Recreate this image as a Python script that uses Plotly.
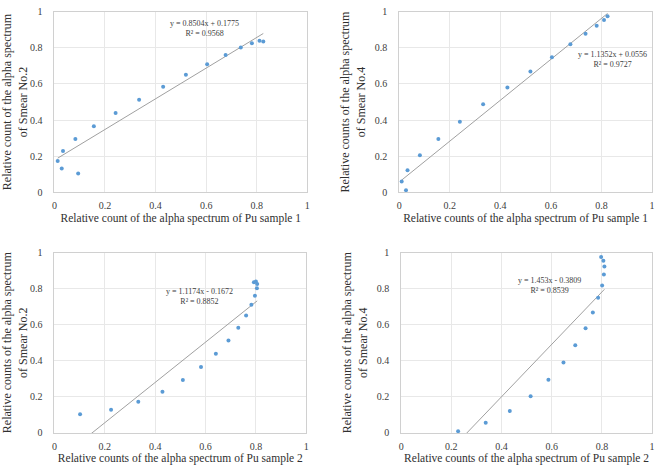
import plotly.graph_objects as go

# ---- data ----
pu1_x = [0.013, 0.029, 0.034, 0.083, 0.094, 0.156, 0.242, 0.335, 0.430, 0.520,
         0.604, 0.677, 0.737, 0.781, 0.811, 0.826]
smear2_y_a = [0.173, 0.131, 0.228, 0.295, 0.103, 0.365, 0.439, 0.513, 0.585, 0.651,
              0.710, 0.761, 0.802, 0.826, 0.840, 0.835]

pu1_x_b = [0.010, 0.027, 0.033, 0.082, 0.155, 0.240, 0.332, 0.428, 0.519, 0.604,
           0.677, 0.737, 0.781, 0.810, 0.824]
smear4_y_b = [0.059, 0.011, 0.122, 0.205, 0.295, 0.390, 0.487, 0.581, 0.669, 0.748,
              0.820, 0.879, 0.923, 0.955, 0.975]

pu2_x_c = [0.102, 0.225, 0.333, 0.429, 0.510, 0.582, 0.641, 0.691, 0.730, 0.761,
           0.782, 0.796, 0.792, 0.800, 0.805, 0.804]
smear2_y_c = [0.103, 0.129, 0.173, 0.228, 0.293, 0.365, 0.439, 0.513, 0.583, 0.651,
              0.710, 0.761, 0.835, 0.840, 0.826, 0.802]

pu2_x_d = [0.227, 0.337, 0.433, 0.516, 0.587, 0.647, 0.694, 0.735, 0.764, 0.785,
           0.801, 0.808, 0.810, 0.806, 0.797]
smear4_y_d = [0.009, 0.056, 0.121, 0.203, 0.295, 0.390, 0.486, 0.581, 0.667, 0.750,
              0.818, 0.878, 0.923, 0.955, 0.975]

# trendline coefficients (slope, intercept) and labels
fits = [(0.8504, 0.1775), (1.1352, 0.0556), (1.1174, -0.1672), (1.453, -0.3809)]
eq_labels = ["y = 0.8504x + 0.1775<br>R² = 0.9568",
             "y = 1.1352x + 0.0556<br>R² = 0.9727",
             "y = 1.1174x - 0.1672<br>R² = 0.8852",
             "y = 1.453x - 0.3809<br>R² = 0.8539"]
eq_pos = [(0.594, 0.91), (0.844, 0.733), (0.576, 0.757), (0.59, 0.817)]

x_titles = ["Relative count of the alpha spectrum of Pu sample 1",
            "Relative counts of the alpha spectrum of Pu sample 1",
            "Relative counts of the alpha spectrum of Pu sample 2",
            "Relative counts of the alpha spectrum of Pu sample 2"]
y_titles = ["Relative count of the alpha spectrum<br>of Smear No.2",
            "Relative counts of the alpha spectrum<br>of Smear No.4",
            "Relative counts of the alpha spectrum<br>of Smear No.2",
            "Relative counts of the alpha spectrum<br>of Smear No.4"]

ticks = [0, 0.2, 0.4, 0.6, 0.8, 1]
tick_text = ["0", "0.2", "0.4", "0.6", "0.8", "1"]

series = [(pu1_x, smear2_y_a), (pu1_x_b, smear4_y_b), (pu2_x_c, smear2_y_c), (pu2_x_d, smear4_y_d)]

W, H = 660, 473
domains = [
    ((50 / W, 306 / W), (1 - 191 / H, 1 - 6 / H)),
    ((399 / W, 655 / W), (1 - 191 / H, 1 - 6 / H)),
    ((50 / W, 305 / W), (1 - 438 / H, 1 - 253 / H)),
    ((401 / W, 655 / W), (1 - 438 / H, 1 - 253 / H)),
]

fig = go.Figure()
FONT = "Liberation Serif, Times New Roman, serif"

for i, ((xs, ys), (m, b)) in enumerate(zip(series, fits)):
    n = "" if i == 0 else str(i + 1)
    xa, ya = "x" + n, "y" + n
    x0, x1 = min(xs), max(xs)
    fig.add_trace(go.Scatter(x=[x0, x1], y=[m * x0 + b, m * x1 + b], mode="lines",
                             line=dict(color="#a0a0a0", width=1), xaxis=xa, yaxis=ya,
                             showlegend=False, hoverinfo="skip"))
    fig.add_trace(go.Scatter(x=xs, y=ys, mode="markers",
                             marker=dict(color="#5B9BD5", size=4), xaxis=xa, yaxis=ya,
                             showlegend=False, cliponaxis=False))
    (dx, dy) = domains[i]
    axcommon = dict(range=[0, 1], tickvals=ticks, ticktext=tick_text, showgrid=True,
                    gridcolor="#e8e8e8", gridwidth=1, showline=True, linecolor="#d0d0d0",
                    linewidth=1, mirror=True, zeroline=False,
                    tickfont=dict(family=FONT, size=10, color="#404040"))
    fig.layout["xaxis" + n] = dict(axcommon, domain=list(dx), anchor=ya,
                                   ticklabelstandoff=4,
                                   title=dict(text=x_titles[i], standoff=3,
                                              font=dict(family=FONT, size=11.5, color="#303030")))
    fig.layout["yaxis" + n] = dict(axcommon, domain=list(dy), anchor=xa,
                                   ticklabelstandoff=9,
                                   title=dict(text=y_titles[i], standoff=6,
                                              font=dict(family=FONT, size=12, color="#303030")))
    ex, ey = eq_pos[i]
    fig.add_annotation(x=ex, y=ey, xref=xa, yref=ya, text=eq_labels[i], showarrow=False,
                       font=dict(family=FONT, size=8, color="#404040"), align="center")

fig.update_layout(width=W, height=H, margin=dict(l=0, r=0, t=0, b=0),
                  paper_bgcolor="white", plot_bgcolor="white")
fig.write_html("out.html", config={"displayModeBar": False},
               post_script="document.body.style.margin='0';document.body.style.overflow='hidden';")
